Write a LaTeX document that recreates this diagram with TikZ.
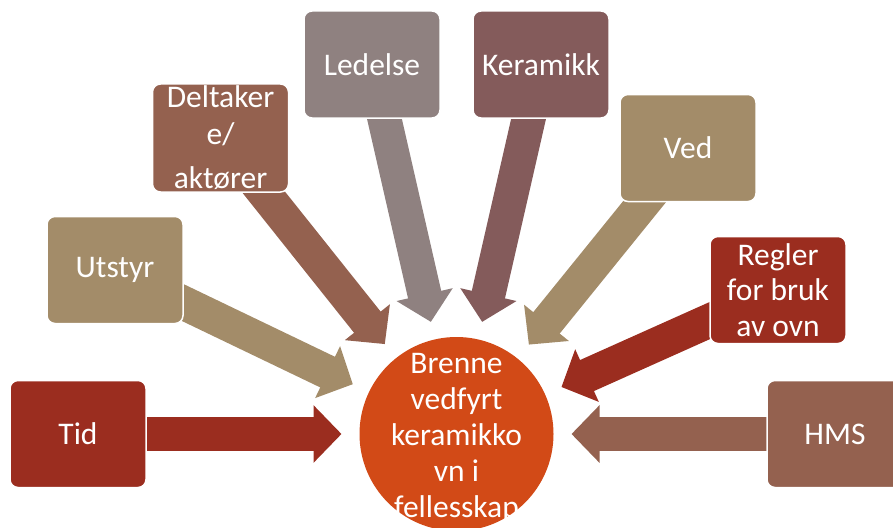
\documentclass[tikz,border=0pt]{standalone}
\usepackage{fontspec}
\setmainfont{Carlito}
\usetikzlibrary{arrows.meta,backgrounds}

\definecolor{rod}{RGB}{155,45,31}
\definecolor{sand}{RGB}{163,140,105}
\definecolor{brun}{RGB}{148,97,79}
\definecolor{gra}{RGB}{143,129,128}
\definecolor{mauve}{RGB}{132,91,91}
\definecolor{oransje}{RGB}{210,74,23}

\begin{document}
\begin{tikzpicture}[x=1pt,y=-1pt,
    boks/.style={rectangle, rounded corners=8pt, draw=white, line width=1.5pt,
      minimum width=136pt, minimum height=107pt, inner sep=2pt,
      text=white, align=center, font=\fontsize{31.5}{35.5}\selectfont},
    pil/.style={line width=34pt, -{Triangle[length=28pt,width=56pt]},
      shorten >=115pt}]
  \useasboundingbox (0,0) rectangle (893,527);
  \clip (0,0) rectangle (893,527);

  % Midten
  \node[circle, fill=oransje, minimum size=194pt, inner sep=0pt] (hub) at (456.5,434) {};
  \node[text=white, align=center, font=\fontsize{31.5}{36}\selectfont] (hubtekst)
    at (456.5,438) {Brenne\\vedfyrt\\keramikko\\vn i\\fellesskap};

  % Boksene
  \node[boks, fill=rod] (tid) at (78,434) {Tid};
  \node[boks, fill=sand] (utstyr) at (115,270) {Utstyr};
  \node[boks, fill=brun] (deltaker) at (220.5,138) {Deltaker\\[1pt]e/\\[9pt]aktører};
  \node[boks, fill=gra] (ledelse) at (372,64.5) {Ledelse};
  \node[boks, fill=mauve] (keramikk) at (541,64.5) {Keramikk};
  \node[boks, fill=sand] (ved) at (688,148) {Ved};
  \node[boks, fill=rod] (regler) at (778,290) {Regler\\for bruk\\av ovn};
  \node[boks, fill=brun] (hms) at (835,434) {HMS};

  % Pilene
  \begin{scope}[on background layer]
    \draw[pil, rod] (tid.center) -- (hub.center);
    \draw[pil, sand] (utstyr.center) -- (hub.center);
    \draw[pil, brun] (deltaker.center) -- (hub.center);
    \draw[pil, gra] (ledelse.center) -- (hub.center);
    \draw[pil, mauve] (keramikk.center) -- (hub.center);
    \draw[pil, sand] (ved.center) -- (hub.center);
    \draw[pil, rod] (regler.center) -- (hub.center);
    \draw[pil, brun] (hms.center) -- (hub.center);
  \end{scope}
\end{tikzpicture}
\end{document}
